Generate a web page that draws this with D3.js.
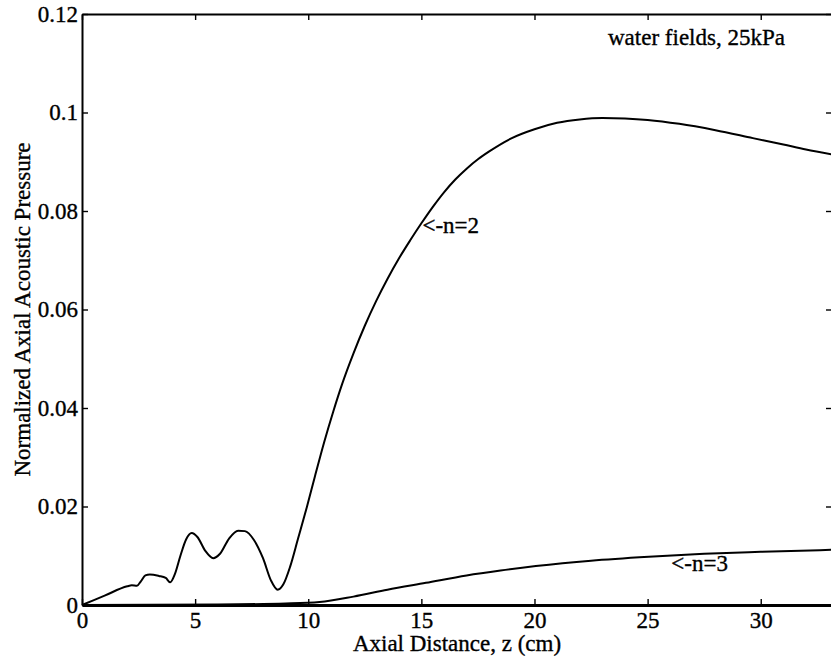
<!DOCTYPE html>
<html>
<head>
<meta charset="utf-8">
<script src="https://cdn.jsdelivr.net/npm/d3@7"></script>
<style>
  html, body { margin: 0; padding: 0; background: #fff; }
  svg { display: block; }
</style>
</head>
<body>
<div id="chart"></div>
<script>
// Axial distance (cm) and normalized axial pressure, mode n=2
const zN2 = [0, 1, 2.0, 2.2, 2.43, 2.6, 2.8, 3.0, 3.4, 3.7, 3.9, 4.1, 4.35, 4.6, 4.85, 5.1, 5.45, 5.8, 6.1, 6.5, 6.9, 7.2, 7.6, 8.0, 8.35, 8.65, 8.9, 9.2, 9.55, 9.94, 10.3, 10.7, 11.1, 11.5, 12.0, 12.5, 13.0, 13.5, 14.0, 14.5, 15.0, 15.5, 16.0, 16.5, 17.0, 17.5, 18.0, 19.0, 20.0, 21.0, 22.0, 23.0, 24.0, 25.0, 26.4, 28.0, 29.65, 31.0, 32.0, 33.15];
const pN2 = [0, 0.0019, 0.0038, 0.0040, 0.0039, 0.0048, 0.0060, 0.0062, 0.0059, 0.0055, 0.0046, 0.0062, 0.0100, 0.0133, 0.0146, 0.0138, 0.0110, 0.0095, 0.0104, 0.0135, 0.0151, 0.0150, 0.0132, 0.0095, 0.0050, 0.0031, 0.0042, 0.0078, 0.0135, 0.0199, 0.0262, 0.0330, 0.0392, 0.0449, 0.0511, 0.0567, 0.0617, 0.0662, 0.0703, 0.0740, 0.0775, 0.0808, 0.0838, 0.0864, 0.0886, 0.0905, 0.0921, 0.0948, 0.0966, 0.0979, 0.0986, 0.0989, 0.0988, 0.0985, 0.0977, 0.0964, 0.0948, 0.0935, 0.0925, 0.0915];

// Mode n=3
const zN3 = [0, 6, 9, 10.5, 12, 13.5, 15.2, 17, 18.5, 20.06, 22.5, 25.05, 27.5, 30, 33.15];
const pN3 = [0, 0.0001, 0.0003, 0.0006, 0.0017, 0.0031, 0.0045, 0.0060, 0.0070, 0.0079, 0.0090, 0.0098, 0.0104, 0.0108, 0.0112];

const xTicks = [0, 5, 10, 15, 20, 25, 30];
const yTicks = [0, 0.02, 0.04, 0.06, 0.08, 0.1, 0.12];
const yTickLabels = ["0", "0.02", "0.04", "0.06", "0.08", "0.1", "0.12"];

const seriesLabels = [
  { text: "<-n=2", z: 15.05, p: 0.0755 },
  { text: "<-n=3", z: 26.05, p: 0.0069 }
];
const noteText = "water fields, 25kPa";
const xTitle = "Axial Distance, z (cm)";
const yTitle = "Normalized Axial Acoustic Pressure";

const W = 831, H = 661;
const plotLeft = 82, plotRight = 832, plotTop = 14, plotBottom = 605;
const FONT = 23;
const FAMILY = "'Liberation Serif', 'Times New Roman', Times, serif";

const svg = d3.select("#chart").append("svg")
  .attr("width", W).attr("height", H);

const x = d3.scaleLinear().domain([0, 33.15]).range([plotLeft, plotRight]);
const y = d3.scaleLinear().domain([0, 0.12]).range([plotBottom, plotTop]);

// Curves
const line = d3.line()
  .x(d => x(d[0])).y(d => y(d[1]))
  .curve(d3.curveMonotoneX);

[[zN2, pN2], [zN3, pN3]].forEach(([zs, ps]) => {
  svg.append("path")
    .datum(zs.map((z, i) => [z, ps[i]]))
    .attr("d", line)
    .attr("fill", "none")
    .attr("stroke", "#000")
    .attr("stroke-width", 2);
});

// Slightly heavy serif text
function label(sel) {
  return sel.style("font-family", FAMILY)
    .style("font-size", FONT + "px")
    .attr("fill", "#000")
    .attr("stroke", "#000")
    .attr("stroke-width", 0.35);
}

// Frame with inward ticks on all four sides
function styleAxis(g, width) {
  g.attr("font-family", null).attr("font-size", null);
  g.selectAll(".domain").attr("stroke", "#000").attr("stroke-width", width);
  g.selectAll(".tick line").attr("stroke", "#000").attr("stroke-width", 1.4);
  g.selectAll("text").call(label);
}

const gx = svg.append("g").attr("transform", `translate(0,${plotBottom})`)
  .call(d3.axisBottom(x).tickValues(xTicks).tickFormat(d3.format("d"))
    .tickSizeInner(-6).tickSizeOuter(0).tickPadding(7));
styleAxis(gx, 3);

const gxt = svg.append("g").attr("transform", `translate(0,${plotTop})`)
  .call(d3.axisTop(x).tickValues(xTicks).tickFormat("")
    .tickSizeInner(-6).tickSizeOuter(0));
styleAxis(gxt, 2);

const gy = svg.append("g").attr("transform", `translate(${plotLeft},0)`)
  .call(d3.axisLeft(y).tickValues(yTicks).tickFormat((d, i) => yTickLabels[i])
    .tickSizeInner(-6).tickSizeOuter(0).tickPadding(4));
styleAxis(gy, 2);

const gyr = svg.append("g").attr("transform", `translate(${plotRight},0)`)
  .call(d3.axisRight(y).tickValues(yTicks).tickFormat("")
    .tickSizeInner(-6).tickSizeOuter(0));
styleAxis(gyr, 2);

// Axis titles
svg.append("text")
  .attr("x", (plotLeft + plotRight) / 2).attr("y", 651)
  .attr("text-anchor", "middle")
  .call(label)
  .text(xTitle);

svg.append("text")
  .attr("transform", `translate(30,${(plotTop + plotBottom) / 2}) rotate(-90)`)
  .attr("text-anchor", "middle")
  .call(label)
  .text(yTitle);

// Annotations
svg.append("text")
  .attr("x", 608).attr("y", 45)
  .call(label)
  .text(noteText);

seriesLabels.forEach(l => {
  svg.append("text")
    .attr("x", x(l.z)).attr("y", y(l.p))
    .call(label)
    .text(l.text);
});
</script>
</body>
</html>
